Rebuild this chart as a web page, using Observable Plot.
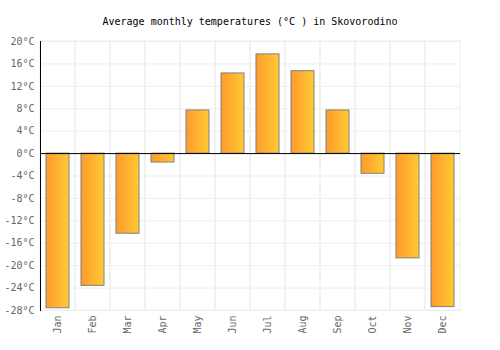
<!DOCTYPE html>
<html>
<head>
<meta charset="utf-8">
<script src="https://cdn.jsdelivr.net/npm/d3@7"></script>
<script src="https://cdn.jsdelivr.net/npm/@observablehq/plot@0.6"></script>
<style>
  body { margin: 0; background: #fff; }
  #wrap { position: relative; width: 500px; height: 350px; }
  #title { position: absolute; top: 16px; left: 0; width: 500px; text-align: center;
           font-family: "DejaVu Sans Mono", monospace; font-size: 10px; color: #000; }
  #chart { position: absolute; top: 0; left: 0; }
</style>
</head>
<body>
<div id="wrap">
  <div id="chart"></div>
  <div id="title">Average monthly temperatures (°C ) in Skovorodino</div>
</div>
<script>
const months = ["Jan","Feb","Mar","Apr","May","Jun","Jul","Aug","Sep","Oct","Nov","Dec"];
const temps = [-27.6, -23.6, -14.3, -1.6, 7.7, 14.3, 17.7, 14.7, 7.7, -3.6, -18.7, -27.4];
const yTicks = [20, 16, 12, 8, 4, 0, -4, -8, -12, -16, -20, -24, -28];
const yMin = -28, yMax = 20;

const data = months.map((m, i) => ({month: m, temp: temps[i]}));

const chart = Plot.plot({
  width: 500,
  height: 350,
  marginLeft: 40,
  marginRight: 40,
  marginTop: 41,
  marginBottom: 40,
  style: {fontFamily: "DejaVu Sans Mono, monospace", fontSize: "10px", background: "#fff"},
  x: {domain: months, padding: 0, label: null},
  y: {domain: [yMin, yMax], ticks: yTicks, label: null},
  marks: [
    Plot.gridY(yTicks, {stroke: "#eeeeee", strokeOpacity: 1}),
    Plot.barY(months, {x: d => d, y1: yMin, y2: yMax, fill: "none", stroke: "#eeeeee", strokeWidth: 1}),
    Plot.barY(data, {x: "month", y: "temp", fill: "url(#barGrad)", stroke: "#808080", strokeWidth: 1, insetLeft: 6, insetRight: 6}),
    Plot.ruleY([0], {stroke: "#000", strokeWidth: 1}),
    Plot.frame({anchor: "left", stroke: "#000"}),
    Plot.axisY(yTicks, {tickSize: 0, tickPadding: 6, tickFormat: d => d + "°C", fill: "#666", fontSize: 10}),
    Plot.axisX({tickSize: 0, tickPadding: 5, tickRotate: -90, fill: "#666", fontSize: 10, label: null})
  ]
});

const ns = "http://www.w3.org/2000/svg";
const defs = document.createElementNS(ns, "defs");
const grad = document.createElementNS(ns, "linearGradient");
grad.setAttribute("id", "barGrad");
grad.setAttribute("x1", "0"); grad.setAttribute("y1", "0");
grad.setAttribute("x2", "1"); grad.setAttribute("y2", "0");
[["0%", "#ff9a2e"], ["100%", "#ffca33"]].forEach(([o, c]) => {
  const s = document.createElementNS(ns, "stop");
  s.setAttribute("offset", o); s.setAttribute("stop-color", c);
  grad.appendChild(s);
});
defs.appendChild(grad);
chart.insertBefore(defs, chart.firstChild);
document.getElementById("chart").appendChild(chart);
</script>
</body>
</html>
